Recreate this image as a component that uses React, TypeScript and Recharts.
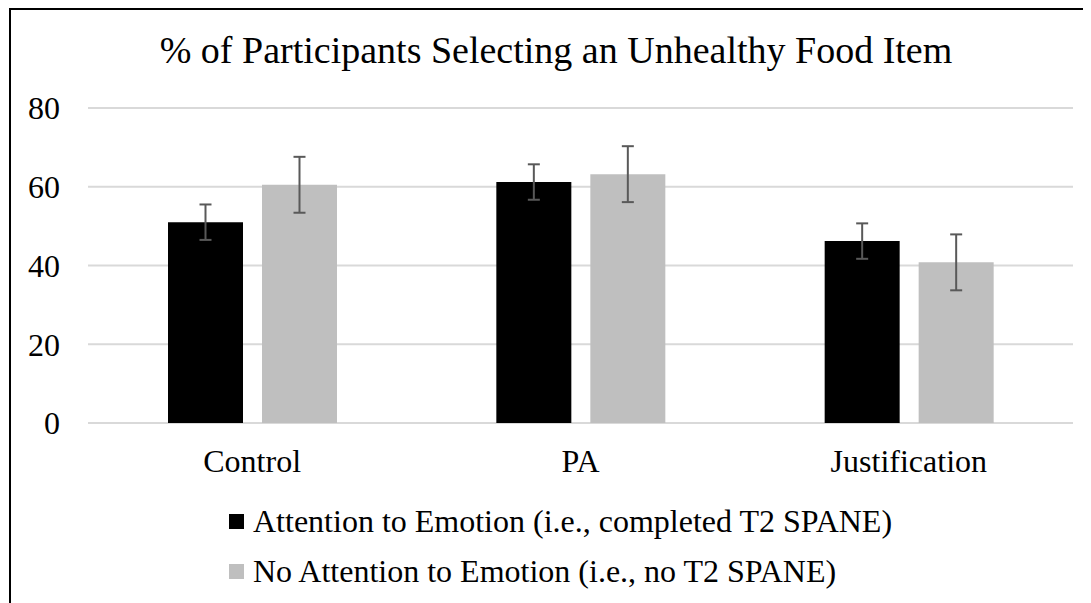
import React from 'react';
import { BarChart, Bar, XAxis, YAxis, CartesianGrid, ErrorBar, Legend } from 'recharts';

const categories = ['Control', 'PA', 'Justification'];
const attention = [51.0, 61.2, 46.2];
const attentionErr = [4.5, 4.5, 4.5];
const noAttention = [60.5, 63.2, 40.8];
const noAttentionErr = [7.1, 7.1, 7.1];
const yTicks = [0, 20, 40, 60, 80];
const title = '% of Participants Selecting an Unhealthy Food Item';
const seriesNames = [
  'Attention to Emotion (i.e., completed T2 SPANE)',
  'No Attention to Emotion (i.e., no T2 SPANE)',
];
const seriesColors = ['#000000', '#bfbfbf'];

const data = categories.map((c, i) => ({
  name: c,
  a: attention[i],
  aErr: attentionErr[i],
  b: noAttention[i],
  bErr: noAttentionErr[i],
}));

const FONT = '"Liberation Serif", "Times New Roman", Tinos, FreeSerif, monospace';

const LegendContent = (props: any) => {
  const payload = props.payload || [];
  return (
    <div style={{ fontFamily: FONT, fontSize: 32, color: '#000' }}>
      {payload.map((p: any, i: number) => (
        <div key={i} style={{ display: 'flex', alignItems: 'center', height: 50, lineHeight: '50px', whiteSpace: 'nowrap' }}>
          <span style={{ display: 'inline-block', width: 15, height: 15, background: p.color, marginRight: 9 }} />
          <span>{p.value}</span>
        </div>
      ))}
    </div>
  );
};

export default function App() {
  return (
    <div style={{ position: 'relative', width: 1083, height: 595, overflow: 'hidden', fontFamily: FONT }}>
      <div
        style={{
          position: 'absolute',
          left: 1,
          top: 0,
          width: 1200,
          height: 700,
          border: '2px solid #000',
          boxSizing: 'border-box',
        }}
      />
      <div
        style={{
          position: 'absolute',
          left: 0,
          width: 1096,
          top: 20,
          textAlign: 'center',
          fontFamily: FONT,
          fontSize: 38,
          lineHeight: '44px',
          color: '#000',
          whiteSpace: 'nowrap',
        }}
      >
        {title}
      </div>
      <div style={{ position: 'absolute', left: 0, top: 0 }}>
        <BarChart
          width={1083}
          height={595}
          data={data}
          margin={{ top: 100, right: 18, bottom: 120, left: 0 }}
          barGap={19}
          barSize={75}
          style={{ fontFamily: FONT }}
        >
          <CartesianGrid vertical={false} stroke="#d9d9d9" strokeWidth={2} />
          <XAxis
            dataKey="name"
            axisLine={false}
            tickLine={false}
            tickSize={0}
            tickMargin={26}
            height={60}
            tick={{ fontFamily: FONT, fontSize: 32, fill: '#000' }}
          />
          <YAxis
            domain={[0, 80]}
            ticks={yTicks}
            width={80}
            axisLine={false}
            tickLine={false}
            tickSize={0}
            tickMargin={28}
            tick={{ fontFamily: FONT, fontSize: 32, fill: '#000' }}
          />
          <Legend
            layout="vertical"
            align="center"
            verticalAlign="middle"
            content={<LegendContent />}
            wrapperStyle={{ left: 221, top: 488, width: 800, height: 100 }}
          />
          <Bar dataKey="a" name={seriesNames[0]} fill={seriesColors[0]} isAnimationActive={false}>
            <ErrorBar dataKey="aErr" width={6} stroke="#595959" strokeWidth={2} />
          </Bar>
          <Bar dataKey="b" name={seriesNames[1]} fill={seriesColors[1]} isAnimationActive={false}>
            <ErrorBar dataKey="bErr" width={6} stroke="#595959" strokeWidth={2} />
          </Bar>
        </BarChart>
      </div>
    </div>
  );
}
